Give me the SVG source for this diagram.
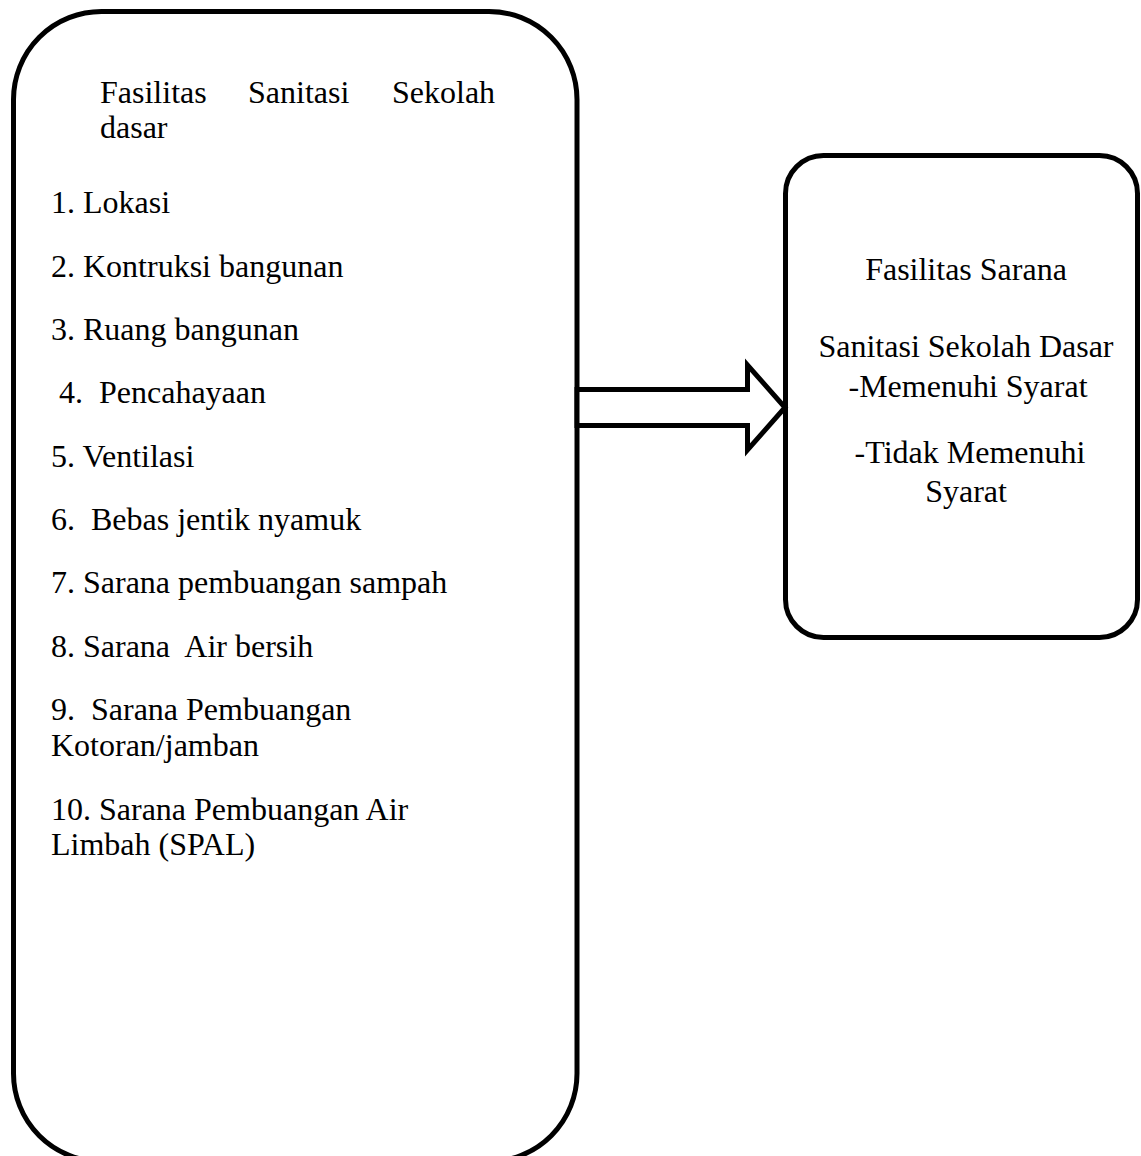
<svg xmlns="http://www.w3.org/2000/svg" width="1141" height="1156" viewBox="0 0 1141 1156">
<style>
.box{fill:#fff;stroke:#000;stroke-width:5}
.t{font-family:"Liberation Serif","Times New Roman",serif;font-size:32px;fill:#000}
.c{text-anchor:middle}
</style>
<rect width="1141" height="1156" fill="#fff"/>
<g id="node-left">
<rect class="box" x="13.5" y="11.5" width="563.5" height="1150" rx="88" ry="88"/>
<text class="t" xml:space="preserve"><tspan x="100" y="103">Fasilitas</tspan><tspan x="248" y="103">Sanitasi</tspan><tspan x="392" y="103">Sekolah</tspan><tspan x="100" y="138">dasar</tspan></text>
<text class="t" xml:space="preserve" x="51" y="213">1. Lokasi</text>
<text class="t" xml:space="preserve" x="51" y="277">2. Kontruksi bangunan</text>
<text class="t" xml:space="preserve" x="51" y="340">3. Ruang bangunan</text>
<text class="t" xml:space="preserve" x="51" y="403"> 4.  Pencahayaan</text>
<text class="t" xml:space="preserve" x="51" y="467">5. Ventilasi</text>
<text class="t" xml:space="preserve" x="51" y="530">6.  Bebas jentik nyamuk</text>
<text class="t" xml:space="preserve" x="51" y="593">7. Sarana pembuangan sampah</text>
<text class="t" xml:space="preserve" x="51" y="657">8. Sarana  Air bersih</text>
<text class="t" xml:space="preserve"><tspan x="51" y="720">9.  Sarana Pembuangan</tspan><tspan x="51" y="756">Kotoran/jamban</tspan></text>
<text class="t" xml:space="preserve"><tspan x="51" y="820">10. Sarana Pembuangan Air</tspan><tspan x="51" y="855">Limbah (SPAL)</tspan></text>
</g>
<g id="node-right">
<rect class="box" x="785.5" y="155.5" width="352" height="482" rx="38" ry="38"/>
<text class="t c" x="966" y="280">Fasilitas Sarana</text>
<text class="t c" x="966" y="357">Sanitasi Sekolah Dasar</text>
<text class="t c" x="968" y="397">-Memenuhi Syarat</text>
<text class="t c" x="970" y="463">-Tidak Memenuhi</text>
<text class="t c" x="966" y="502">Syarat</text>
</g>
<g id="connectors">
<polygon class="box" points="577,389.5 747.5,389.5 747.5,365 785,407.5 747.5,450 747.5,425.5 577,425.5"/>
</g>
</svg>
